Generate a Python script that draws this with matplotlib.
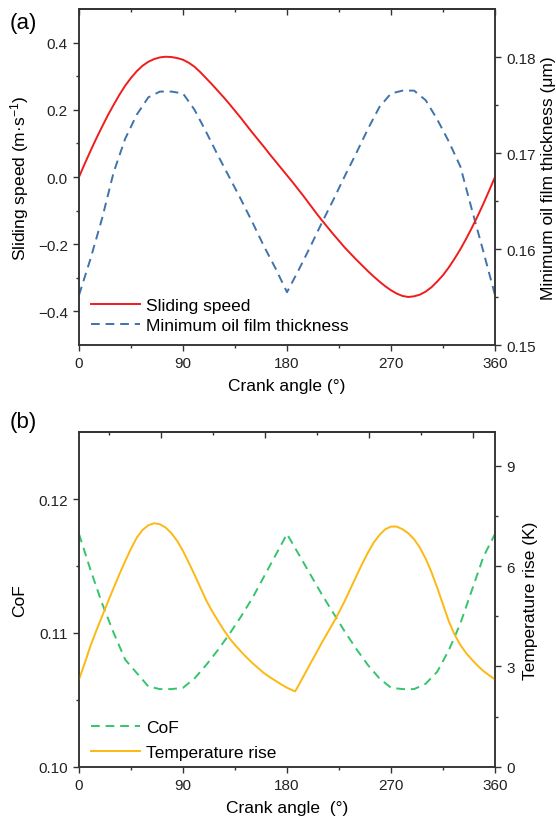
import matplotlib
matplotlib.use("Agg")
import matplotlib.pyplot as plt
from matplotlib.ticker import FixedLocator, FuncFormatter

plt.rcParams.update({
    'font.family': ['Liberation Sans', 'DejaVu Sans'],
    'mathtext.fontset': 'custom',
    'mathtext.rm': 'Liberation Sans',
    'mathtext.it': 'Liberation Sans:italic',
    'font.size': 11,
})

# ---- data ----
angle = list(range(0, 361, 10))
angle_fine = list(range(0, 361, 5))

sliding_speed = [0.000, 0.040, 0.078, 0.115, 0.150, 0.184, 0.215, 0.245, 0.272, 0.295,
                 0.315, 0.331, 0.343, 0.351, 0.356, 0.358, 0.357, 0.354, 0.349, 0.340,
                 0.328, 0.312, 0.294, 0.276, 0.257, 0.238, 0.218, 0.197, 0.176, 0.154,
                 0.132, 0.111, 0.090, 0.068, 0.047, 0.026, 0.005, -0.016, -0.038,
                 -0.060, -0.083, -0.106, -0.128, -0.149, -0.170, -0.190, -0.210,
                 -0.228, -0.246, -0.263, -0.280, -0.296, -0.311, -0.325, -0.337,
                 -0.347, -0.354, -0.357, -0.355, -0.350, -0.341, -0.328, -0.311,
                 -0.292, -0.269, -0.243, -0.215, -0.184, -0.151, -0.116, -0.079,
                 -0.040, 0.000]

film_thickness = [0.1552, 0.1590, 0.1632, 0.1680, 0.1715, 0.1740, 0.1758, 0.1764,
                  0.1764, 0.1762, 0.1745, 0.1722, 0.1698, 0.1675, 0.1652, 0.1628,
                  0.1603, 0.1580, 0.1555, 0.1578, 0.1602, 0.1627, 0.1651, 0.1676,
                  0.1700, 0.1725, 0.1748, 0.1762, 0.1765, 0.1765, 0.1755, 0.1735,
                  0.1712, 0.1686, 0.1641, 0.1597, 0.1552]

cof = [0.1174, 0.1147, 0.1122, 0.1100, 0.1080, 0.1070, 0.1060, 0.1058, 0.1058,
       0.1059, 0.1066, 0.1076, 0.1087, 0.1099, 0.1112, 0.1126, 0.1142, 0.1158,
       0.1174, 0.1159, 0.1144, 0.1129, 0.1115, 0.1101, 0.1088, 0.1076, 0.1066,
       0.1059, 0.1058, 0.1058, 0.1062, 0.1071, 0.1087, 0.1107, 0.1132, 0.1157,
       0.1174]

temp_angle = [0, 5, 10, 15, 20, 25, 30, 35, 40, 45, 50, 55, 60, 65, 70, 75, 80, 85,
              90, 95, 100, 105, 110, 115, 120, 125, 130, 135, 140, 145, 150, 155,
              160, 165, 170, 175, 180, 187, 190, 195, 200, 205, 210, 215, 220, 225,
              230, 235, 240, 245, 250, 255, 260, 265, 270, 275, 280, 285, 290, 295,
              300, 305, 310, 315, 320, 325, 330, 335, 340, 345, 350, 355, 360]
temp_rise = [2.61, 3.10, 3.62, 4.07, 4.50, 4.93, 5.35, 5.76, 6.15, 6.52, 6.85, 7.08,
             7.22, 7.28, 7.25, 7.15, 6.98, 6.75, 6.45, 6.10, 5.74, 5.36, 4.98, 4.66,
             4.38, 4.10, 3.85, 3.64, 3.45, 3.27, 3.10, 2.95, 2.80, 2.68, 2.57, 2.46,
             2.36, 2.25, 2.43, 2.75, 3.07, 3.38, 3.70, 4.00, 4.30, 4.62, 4.96, 5.33,
             5.70, 6.06, 6.40, 6.70, 6.93, 7.10, 7.18, 7.18, 7.10, 6.98, 6.80, 6.55,
             6.22, 5.82, 5.35, 4.85, 4.35, 3.95, 3.64, 3.40, 3.20, 3.02, 2.86, 2.73,
             2.61]

x_ticks = [0, 90, 180, 270, 360]
x_minor = [45, 135, 225, 315]

RED = '#f21b1b'
BLUE = '#3f73aa'
GREEN = '#35c46c'
ORANGE = '#fdb813'
AXC = '#333333'


def fmt(decimals):
    return FuncFormatter(lambda v, pos: f'{v:.{decimals}f}'.replace('-', '\u2212'))


def style_axis(ax):
    for s in ax.spines.values():
        s.set_color(AXC)
        s.set_linewidth(1.1)
    ax.tick_params(which='both', direction='out', colors=AXC, labelcolor='#222222')
    ax.tick_params(which='major', length=4.5, width=1.0, labelsize=11)
    ax.tick_params(which='minor', length=2.5, width=1.0)


def add_top_ticks(ax, major, minor):
    top = ax.secondary_xaxis('top')
    top.set_xticks(major)
    top.xaxis.set_minor_locator(FixedLocator(minor))
    top.tick_params(which='both', direction='in', labeltop=False, colors=AXC)
    top.tick_params(which='major', length=4.5, width=1.0)
    top.tick_params(which='minor', length=2.5, width=1.0)
    top.spines['top'].set_color(AXC)
    top.spines['top'].set_linewidth(1.1)


fig = plt.figure(figsize=(5.56, 8.2), dpi=100)

# ---------------- (a) ----------------
ax1 = fig.add_axes([0.1421, 0.578, 0.7482, 0.4098])
ax1b = ax1.twinx()
l2, = ax1b.plot(angle, film_thickness, color=BLUE, lw=1.4, dashes=(4.5, 3))
l1, = ax1.plot(angle_fine, sliding_speed, color=RED, lw=1.4)
ax1.set_zorder(ax1b.get_zorder() + 1)
ax1.patch.set_visible(False)

ax1.set_xlim(0, 360)
ax1.set_ylim(-0.5, 0.5)
ax1b.set_ylim(0.15, 0.185)
ax1.set_xticks(x_ticks)
ax1.xaxis.set_minor_locator(FixedLocator(x_minor))
ax1.set_yticks([-0.4, -0.2, 0.0, 0.2, 0.4])
ax1.yaxis.set_minor_locator(FixedLocator([-0.3, -0.1, 0.1, 0.3]))
ax1.yaxis.set_major_formatter(fmt(1))
ax1b.set_yticks([0.15, 0.16, 0.17, 0.18])
ax1b.yaxis.set_minor_locator(FixedLocator([0.155, 0.165, 0.175]))
ax1b.yaxis.set_major_formatter(fmt(2))
for a in (ax1, ax1b):
    style_axis(a)
add_top_ticks(ax1, x_ticks, x_minor)

ax1.set_xlabel('Crank angle (°)', fontsize=12.5, labelpad=6)
ax1.set_ylabel('Sliding speed (m·s$^{-1}$)', fontsize=12.5, labelpad=5)
ax1b.set_ylabel('Minimum oil film thickness (μm)', fontsize=12.5, labelpad=4)
ax1b.legend([l1, l2], ['Sliding speed', 'Minimum oil film thickness'],
            loc='lower left', frameon=False, fontsize=12.5, handlelength=2.8,
            handletextpad=0.35, labelspacing=0.25, borderaxespad=0.3,
            bbox_to_anchor=(0.0, 0.0))
fig.text(0.018, 0.971, '(a)', fontsize=16, va='center', ha='left')

# ---------------- (b) ----------------
ax2 = fig.add_axes([0.1421, 0.0638, 0.7482, 0.4078])
ax2b = ax2.twinx()
l3, = ax2.plot(angle, cof, color=GREEN, lw=1.4, dashes=(4.5, 3))
l4, = ax2b.plot(temp_angle, temp_rise, color=ORANGE, lw=1.4)

ax2.set_xlim(0, 360)
ax2.set_ylim(0.10, 0.125)
ax2b.set_ylim(0, 10)
ax2.set_xticks(x_ticks)
ax2.xaxis.set_minor_locator(FixedLocator(x_minor))
ax2.set_yticks([0.10, 0.11, 0.12])
ax2.yaxis.set_minor_locator(FixedLocator([0.105, 0.115]))
ax2.yaxis.set_major_formatter(fmt(2))
ax2b.set_yticks([0, 3, 6, 9])
ax2b.yaxis.set_minor_locator(FixedLocator([1.5, 4.5, 7.5]))
for a in (ax2, ax2b):
    style_axis(a)
# the top-axis ticks of panel (b) are offset in the original figure
add_top_ticks(ax2, [70.6, 160.6, 250.6, 340.6], [25.6, 115.6, 205.6, 295.6])

ax2.set_xlabel('Crank angle  (°)', fontsize=12.5, labelpad=6)
ax2.set_ylabel('CoF', fontsize=12.5, labelpad=8)
ax2b.set_ylabel('Temperature rise (K)', fontsize=12.5, labelpad=6)
ax2b.legend([l3, l4], ['CoF', 'Temperature rise'],
            loc='lower left', frameon=False, fontsize=12.5, handlelength=2.8,
            handletextpad=0.35, labelspacing=0.55, borderaxespad=0.3,
            bbox_to_anchor=(0.0, -0.016))
fig.text(0.018, 0.485, '(b)', fontsize=16, va='center', ha='left')

fig.savefig('out.png', dpi=100)
